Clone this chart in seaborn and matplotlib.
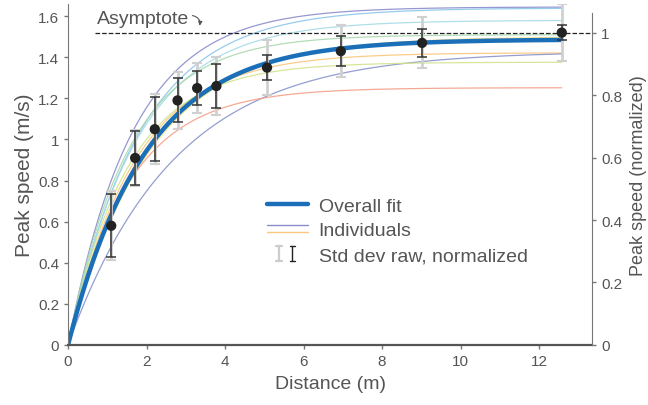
import numpy as np
import pandas as pd
import matplotlib
matplotlib.use('Agg')
import matplotlib.pyplot as plt
import seaborn as sns
from matplotlib.lines import Line2D
from matplotlib.legend_handler import HandlerBase

# measured means and spreads
dist = [1.10, 1.71, 2.21, 2.79, 3.29, 3.78, 5.07, 6.95, 9.02, 12.58]
speed = [0.58, 0.91, 1.05, 1.19, 1.25, 1.26, 1.35, 1.43, 1.47, 1.52]
std_norm = [0.153, 0.133, 0.156, 0.107, 0.083, 0.106, 0.061, 0.074, 0.069, 0.038]
std_raw = [0.167, 0.137, 0.169, 0.140, 0.122, 0.141, 0.133, 0.126, 0.124, 0.138]

# fitted exponentials: asymptote and length constant
fit_amp, fit_tau = 1.487, 1.98
ind_amp = [1.645, 1.64, 1.58, 1.51, 1.50, 1.422, 1.43, 1.376, 1.252]
ind_tau = [1.65, 1.83, 1.75, 1.55, 2.09, 1.71, 2.70, 1.54, 1.55]
ind_col = ['#8a8ccc', '#8cc6ea', '#a6dbe6', '#a9d9ae', '#f3e27c',
           '#fbc77c', '#8894cc', '#d3e38e', '#f4a08a']
asym = 1.52

sns.set_style('ticks')
plt.rcParams['font.family'] = ['Liberation Sans', 'DejaVu Sans']
gray = '#555555'

xs = np.linspace(0, dist[-1], 300)
ind = pd.DataFrame({
    'x': np.tile(xs, len(ind_amp)),
    'y': np.concatenate([a * (1 - np.exp(-xs / t)) for a, t in zip(ind_amp, ind_tau)]),
    'who': np.repeat(np.arange(len(ind_amp)), len(xs)),
})
overall = pd.DataFrame({'x': xs, 'y': fit_amp * (1 - np.exp(-xs / fit_tau))})

fig, ax = plt.subplots(figsize=(6.48, 4.06), dpi=100)
fig.subplots_adjust(left=0.105, right=0.9136, bottom=0.148, top=0.988)

sns.lineplot(data=ind, x='x', y='y', hue='who', palette=ind_col, lw=0.9,
             legend=False, ax=ax, alpha=0.9)
sns.lineplot(data=overall, x='x', y='y', color='#1b6fb8', lw=3.2, ax=ax)

ax.errorbar(dist, speed, yerr=std_raw, fmt='none', ecolor='#d0d0d0',
            elinewidth=2, capsize=3.5, capthick=1.5, zorder=4)
ax.errorbar(dist, speed, yerr=std_norm, fmt='none', ecolor='#333333',
            elinewidth=1.1, capsize=3.5, capthick=1.1, zorder=5)
sns.scatterplot(x=dist, y=speed, color='#222222', s=55, edgecolor='none',
                zorder=6, ax=ax)

ax.set_xlim(0, 13.35)
ax.set_ylim(0, 1.66)
ax.plot([0.69, 13.35], [asym, asym], ls='--', color='#222222', lw=0.9,
        clip_on=False, zorder=3)
ax.text(0.74, 1.59, 'Asymptote', fontsize=14, color=gray, va='center')
ax.annotate('', xy=(3.34, 1.54), xytext=(3.1, 1.605),
            arrowprops=dict(arrowstyle='-|>', connectionstyle='arc3,rad=-0.6',
                            lw=0.8, color=gray, mutation_scale=6))

ax.set_xticks(range(0, 13, 2))
ax.set_yticks(np.arange(0, 1.61, 0.2))
ax.yaxis.set_major_formatter(lambda v, p: f'{v:g}')
ax.set_xlabel('Distance (m)', fontsize=14, color=gray, labelpad=5)
ax.set_ylabel('Peak speed (m/s)', fontsize=15, color=gray, labelpad=3)
ax.tick_params(colors='#777777', labelcolor=gray, labelsize=11, length=3, width=1)
for s in ['top', 'right']:
    ax.spines[s].set_visible(False)
ax.spines['left'].set_color('#777777')
ax.spines['bottom'].set_color('#555555')
ax.spines['bottom'].set_linewidth(1.6)

ax2 = ax.twinx()
ax2.set_ylim(0, 1.66 / asym)
ax2.set_yticks(np.arange(0, 1.01, 0.2))
ax2.yaxis.set_major_formatter(lambda v, p: f'{v:g}')
ax2.tick_params(colors='#777777', labelcolor=gray, labelsize=11, length=3, width=1)
for s in ['top', 'left', 'bottom']:
    ax2.spines[s].set_visible(False)
ax2.spines['right'].set_color('#777777')
ax2.spines['right'].set_bounds(0, 1.064)
ax2.set_ylabel('Peak speed (normalized)', fontsize=13, color=gray, labelpad=6)


class TwoLines(HandlerBase):
    def create_artists(self, legend, orig, xd, yd, w, h, fs, trans):
        out = []
        for frac, c in [(0.75, ind_col[0]), (0.25, ind_col[5])]:
            l = Line2D([-xd, -xd + w], [-yd + frac * h] * 2, color=c, lw=1)
            l.set_transform(trans)
            out.append(l)
        return out


class TwoBars(HandlerBase):
    def create_artists(self, legend, orig, xd, yd, w, h, fs, trans):
        out = []
        for fx, c, lw in [(0.3, '#cccccc', 1.6), (0.62, '#222222', 1.0)]:
            x0 = -xd + fx * w
            y0, y1 = -yd - 0.1 * h, -yd + 1.0 * h
            cap = 0.07 * w
            for xx, yy in [([x0, x0], [y0, y1]), ([x0 - cap, x0 + cap], [y0, y0]),
                           ([x0 - cap, x0 + cap], [y1, y1])]:
                l = Line2D(xx, yy, color=c, lw=lw)
                l.set_transform(trans)
                out.append(l)
        return out


h_fit = Line2D([], [], color='#1b6fb8', lw=3.2)
h_ind = object()
h_std = object()
leg = ax.legend([h_fit, h_ind, h_std],
                ['Overall fit', 'Individuals', 'Std dev raw, normalized'],
                handler_map={h_ind: TwoLines(), h_std: TwoBars()},
                loc='center left', bbox_to_anchor=(0.365, 0.335), frameon=False,
                fontsize=14, labelspacing=0.36, handlelength=2.1,
                handletextpad=0.55, borderaxespad=0)
for t in leg.get_texts():
    t.set_color(gray)

fig.savefig('out.png', dpi=100)
